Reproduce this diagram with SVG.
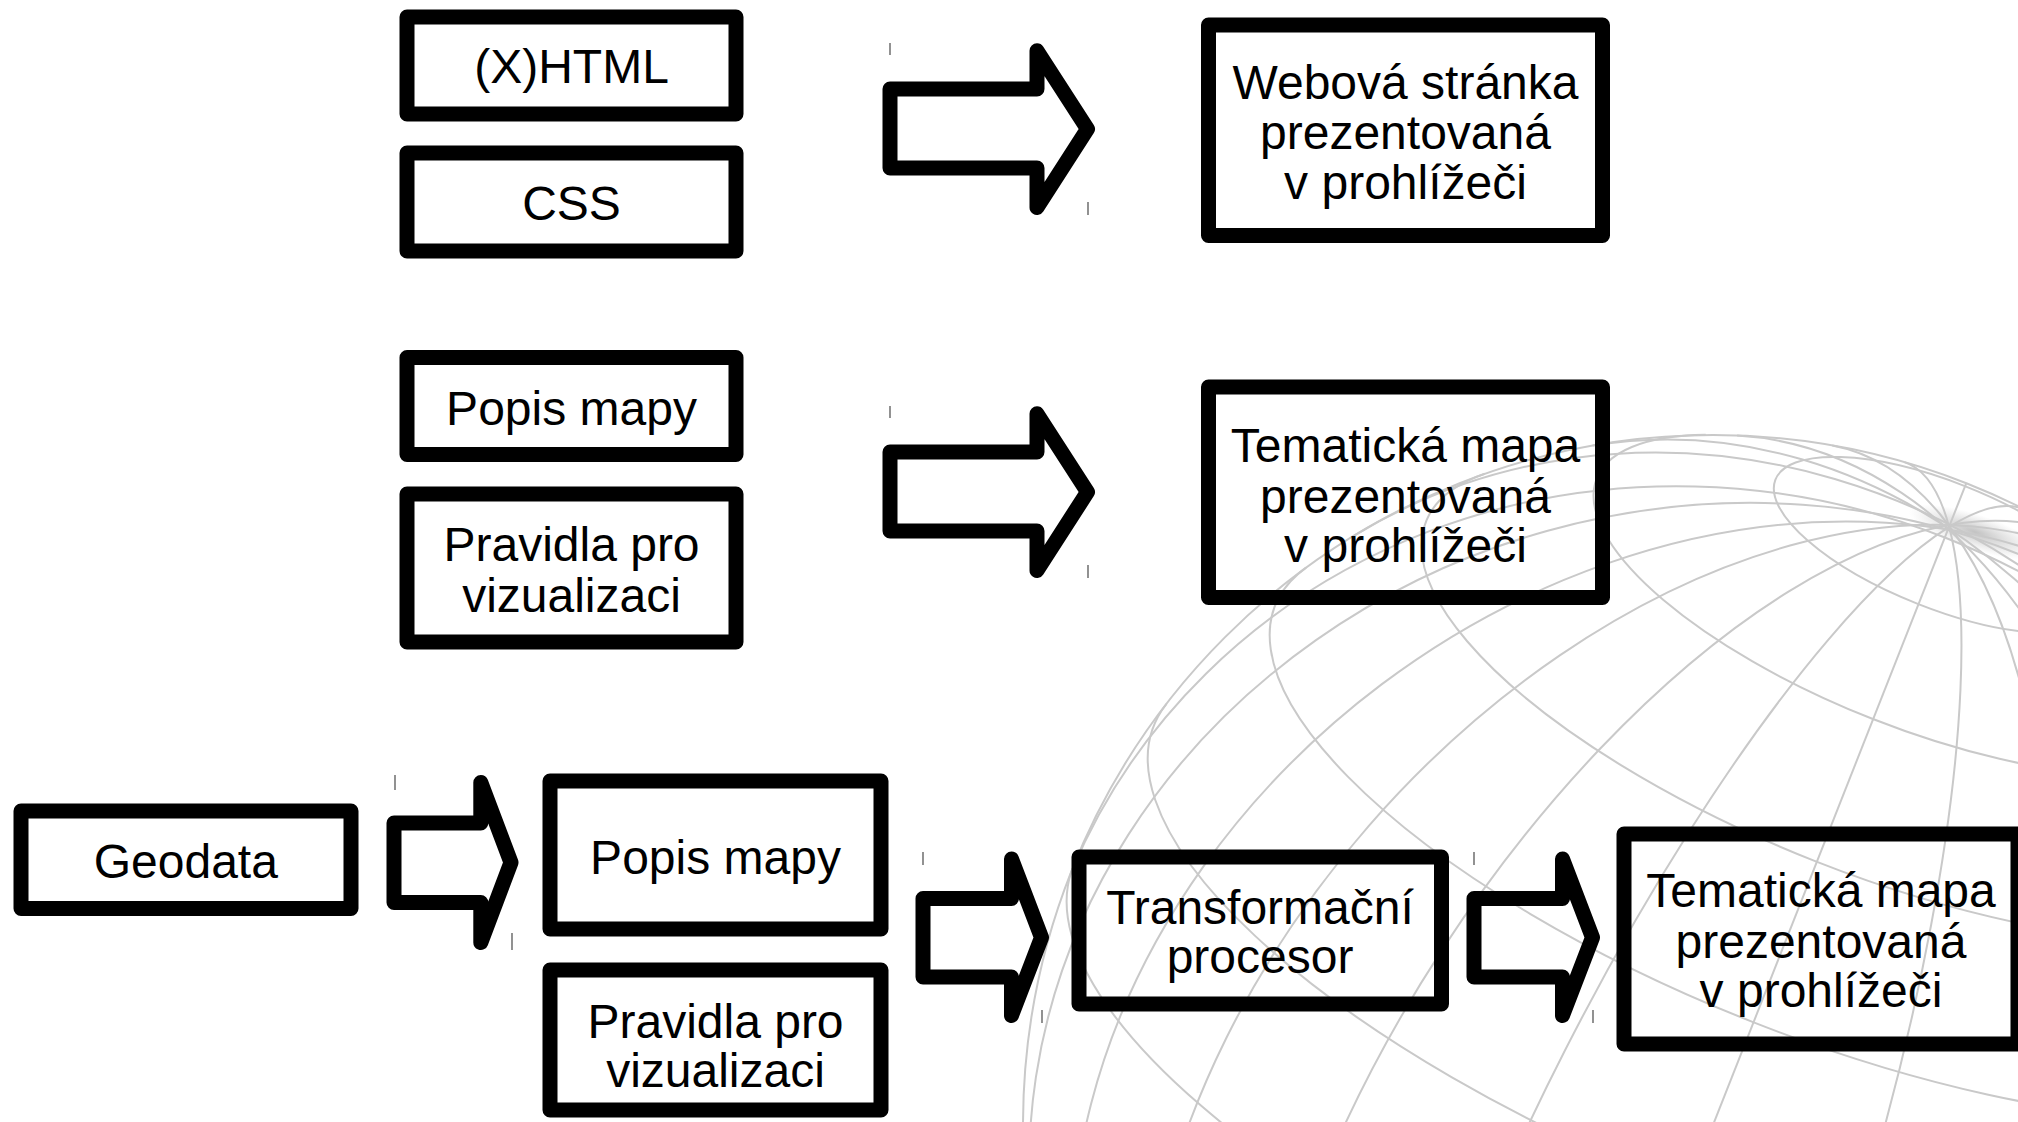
<svg xmlns="http://www.w3.org/2000/svg" width="2018" height="1122" viewBox="0 0 2018 1122">
<defs>
<radialGradient id="poleGlow">
<stop offset="0" stop-color="#a8a8a8" stop-opacity="0.7"/>
<stop offset="1" stop-color="#c0c0c0" stop-opacity="0"/>
</radialGradient>
</defs>
<style>
.box{fill:none;stroke:#000;stroke-width:15;stroke-linejoin:round}
.arr{fill:none;stroke:#000;stroke-width:15;stroke-linejoin:round}
.tick{stroke:#777;stroke-width:1.6}
.g{fill:none;stroke:#c9c9c9;stroke-width:2}
text{font-family:"Liberation Sans",Arial,sans-serif;font-size:48px;fill:#000;text-anchor:middle}
</style>
<rect width="2018" height="1122" fill="#fff"/>
<g id="globe">
<ellipse cx="1975" cy="532" rx="70" ry="18" fill="url(#poleGlow)" transform="rotate(18 1975 532)"/>
<circle class="g" cx="1713" cy="1125" r="690"/>
<path class="g" d="M1071.3,871.8 A690,645.2 21.5 0 1 2354.7,1378.2"/>
<path class="g" d="M1353.4,536.1 A690,623.1 58.6 0 1 2072.6,1713.9"/>
<path class="g" d="M1592.7,445.6 A690,558.7 79.96 0 1 1833.3,1804.4"/>
<path class="g" d="M1737.1,435.5 A690,456.2 -88 0 1 1688.9,1814.5"/>
<path class="g" d="M1832.3,445.4 A690,322.6 -80.04 0 1 1593.7,1804.6"/>
<path class="g" d="M1904.4,462.1 A690,167 -73.9 0 1 1521.6,1787.9"/>
<path class="g" d="M1966.2,483.3 L1459.8,1766.7"/>
<path class="g" d="M2025.8,510 A690,167 -63 0 0 1400.2,1740"/>
<path class="g" d="M2089.9,547 A690,322.6 -56.9 0 0 1336.1,1703"/>
<path class="g" d="M2166.2,604.7 A690,456.2 -48.9 0 0 1259.8,1645.3"/>
<path class="g" d="M2264.7,710.7 A690,558.7 -36.9 0 0 1161.3,1539.3"/>
<path class="g" d="M2377.7,940 A690,623.1 -15.6 0 0 1048.3,1310"/>
<ellipse class="g" cx="1941.6" cy="545.1" rx="178.6" ry="63.4" transform="rotate(21.5 1941.6 545.1)"/>
<path class="g" d="M2189.3,625.6 A345,122.5 21.5 1 1 1705.7,434.8"/>
<path class="g" d="M2324.1,804.9 A487.9,173.2 21.5 1 1 1484.7,473.7"/>
<path class="g" d="M2390.7,995.6 A597.6,212.1 21.5 1 1 1306.1,567.6"/>
<path class="g" d="M2399.7,1190.5 A666.5,236.6 21.5 1 1 1166.5,703.9"/>
<path class="g" d="M2354.7,1378.2 A690,245 21.5 0 1 1071.3,871.8"/>
</g>
<g id="connectors">
<polygon id="arrow1" class="arr" points="890,89 1037,89 1037,50.8 1087.5,129 1037,207.5 1037,168 890,168"/>
<polygon id="arrow2" class="arr" points="890,452 1037,452 1037,413.8 1087.5,492 1037,570.5 1037,531 890,531"/>
<polygon id="arrow3" class="arr" points="394,823 480.8,823 480.8,782.5 511,862.5 480.8,942.5 480.8,902.5 394,902.5"/>
<polygon id="arrow4" class="arr" points="923,898.5 1011.5,898.5 1011.5,859 1041.5,937.5 1011.5,1015.5 1011.5,977 923,977"/>
<polygon id="arrow5" class="arr" points="1474,898.5 1562.5,898.5 1562.5,859 1592.5,937.5 1562.5,1015.5 1562.5,977 1474,977"/>
<path class="tick" d="M890,43V55M1088,202V215M890,406V418M1088,565V578M395,775V790M512,933V950M923,852V865M1042,1010V1023M1474,852V865M1593,1010V1023"/>
</g>
<g id="n-xhtml"><rect class="box" x="407" y="17" width="329" height="97"/><text x="571.5" y="83">(X)HTML</text></g>
<g id="n-css"><rect class="box" x="407" y="153" width="329" height="98"/><text x="571.5" y="220">CSS</text></g>
<g id="n-web"><rect class="box" x="1208.5" y="25" width="394" height="210.5"/><text x="1405.5" y="99">Webová stránka</text><text x="1405.5" y="149">prezentovaná</text><text x="1405.5" y="199">v prohlížeči</text></g>
<g id="n-popis1"><rect class="box" x="407" y="357.5" width="329" height="97"/><text x="571.5" y="425">Popis mapy</text></g>
<g id="n-pravidla1"><rect class="box" x="407" y="494" width="329" height="148"/><text x="571.5" y="561">Pravidla pro</text><text x="571.5" y="612">vizualizaci</text></g>
<g id="n-tema1"><rect class="box" x="1208.5" y="387" width="394" height="210.5"/><text x="1405.5" y="462">Tematická mapa</text><text x="1405.5" y="513">prezentovaná</text><text x="1405.5" y="562">v prohlížeči</text></g>
<g id="n-geodata"><rect class="box" x="21" y="811" width="330" height="97.5"/><text x="185.8" y="878">Geodata</text></g>
<g id="n-popis2"><rect class="box" x="550" y="781" width="331" height="148"/><text x="715.5" y="874">Popis mapy</text></g>
<g id="n-pravidla2"><rect class="box" x="550" y="970" width="331" height="140"/><text x="715.5" y="1038">Pravidla pro</text><text x="715.5" y="1087">vizualizaci</text></g>
<g id="n-transform"><rect class="box" x="1079" y="857" width="362.5" height="147"/><text x="1260" y="924">Transformační</text><text x="1260" y="973">procesor</text></g>
<g id="n-tema2"><rect class="box" x="1624" y="834" width="394" height="210"/><text x="1821" y="907">Tematická mapa</text><text x="1821" y="958">prezentovaná</text><text x="1821" y="1007">v prohlížeči</text></g>
</svg>
